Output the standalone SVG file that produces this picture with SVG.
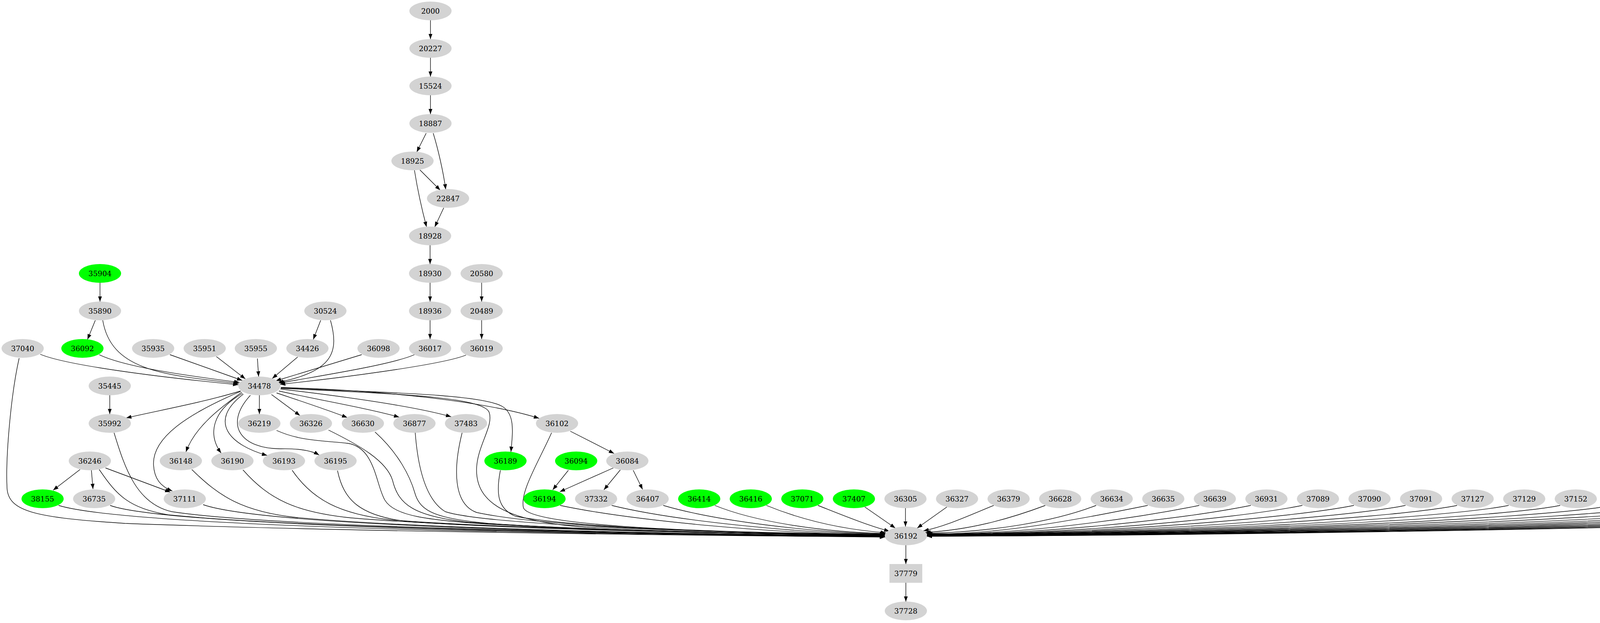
<svg xmlns="http://www.w3.org/2000/svg" width="5678" height="1595" viewBox="0 0 5678 1595">
<style>
.node ellipse,.node rect{fill:#d3d3d3;stroke:none}
.g ellipse{fill:#00ff00}
.node text{font-family:"DejaVu Serif","Liberation Serif",serif;font-size:18.67px;text-anchor:middle;fill:#000}
#edges path{fill:none;stroke:#000;stroke-width:1.35;marker-end:url(#a)}
</style>
<defs>
<marker id="a" markerUnits="userSpaceOnUse" markerWidth="16" markerHeight="12" refX="13.5" refY="5" orient="auto"><path d="M0,0 L13.5,5 L0,10 z" fill="#000"/></marker>
</defs>
<rect width="5678" height="1595" fill="#fff"/>
<g id="edges">
<path d="M1102,52 L1102,100"/>
<path d="M1102,148 L1102,196"/>
<path d="M1102,244 L1102,292"/>
<path d="M1091,341 L1067,389"/>
<path d="M1109,341 C1121,380 1135,440 1141,485"/>
<path d="M1075,435 L1127,487"/>
<path d="M1061,436 C1068,480 1081,540 1092,581"/>
<path d="M1136,532 L1113,581"/>
<path d="M1101,628 L1101,676"/>
<path d="M1101,724 L1101,772"/>
<path d="M1101,820 L1101,868"/>
<path d="M1233,724 L1233,772"/>
<path d="M1233,820 L1233,868"/>
<path d="M256,724 L256,772"/>
<path d="M244,820 L224,869"/>
<path d="M263,820 C285,950 420,960 611,982"/>
<path d="M821,820 L802,869"/>
<path d="M846,820 C868,900 855,950 712,979"/>
<path d="M103,907 C170,935 400,965 610,985"/>
<path d="M254,908 C320,940 480,962 613,979"/>
<path d="M435,908 L620,974"/>
<path d="M554,913 L628,970"/>
<path d="M659,918 L662,964"/>
<path d="M762,914 L697,969"/>
<path d="M926,908 L706,975"/>
<path d="M1061,908 C1000,935 800,965 715,981"/>
<path d="M1193,909 C1130,935 850,970 717,984"/>
<path d="M281,1012 L281,1060"/>
<path d="M616,1001 C520,1030 420,1048 323,1070"/>
<path d="M664,1012 L664,1060"/>
<path d="M695,1010 L768,1064"/>
<path d="M708,1006 C780,1030 840,1050 889,1069"/>
<path d="M714,1001 C820,1025 940,1045 1022,1068"/>
<path d="M718,996 C880,1015 1060,1040 1155,1067"/>
<path d="M719,992 C1000,1000 1250,1030 1380,1071"/>
<path d="M719,993 C1000,1005 1230,1010 1285,1040 C1320,1060 1312,1110 1308,1157"/>
<path d="M719,994 C1000,1008 1235,1015 1252,1055 C1265,1090 1222,1140 1220,1200 C1218,1290 1300,1335 1500,1350 C1800,1365 2100,1369 2266,1372"/>
<path d="M619,1004 C570,1040 500,1090 476,1157"/>
<path d="M621,1007 C545,1050 530,1110 566,1160"/>
<path d="M623,1009 C530,1080 590,1140 684,1166"/>
<path d="M641,1012 C570,1090 620,1150 720,1149 C770,1148 800,1155 817,1165"/>
<path d="M616,1002 C480,1060 390,1120 393,1190 C395,1225 410,1245 441,1257"/>
<path d="M205,1202 L136,1255"/>
<path d="M234,1204 L238,1252"/>
<path d="M270,1198 L436,1260"/>
<path d="M1460,1104 L1572,1161"/>
<path d="M1455,1204 L1415,1254"/>
<path d="M1570,1198 L1433,1259"/>
<path d="M1588,1203 L1546,1254"/>
<path d="M1621,1204 L1645,1253"/>
<path d="M49,917 C28,1010 14,1170 18,1250 C22,1310 90,1325 320,1340 C900,1362 1800,1371 2266,1375"/>
<path d="M150,1294 C300,1340 1100,1366 2266,1374.5"/>
<path d="M254,1202 C300,1270 330,1300 430,1318 C800,1355 1700,1368 2266,1374"/>
<path d="M282,1294 C400,1338 1200,1366 2266,1374"/>
<path d="M292,1108 C320,1200 350,1290 440,1310 C700,1350 1600,1366 2266,1373.5"/>
<path d="M520,1292 C650,1338 1300,1364 2266,1373"/>
<path d="M491,1202 C560,1270 620,1310 760,1325 C1100,1356 1800,1367 2266,1373"/>
<path d="M622,1203 C690,1280 760,1312 900,1326 C1200,1352 1900,1366 2266,1372.5"/>
<path d="M748,1204 C800,1280 870,1316 1000,1331 C1300,1354 1900,1366 2266,1372"/>
<path d="M864,1205 C880,1280 920,1322 1050,1336 C1350,1356 1900,1367 2266,1371"/>
<path d="M708,1102 C770,1130 830,1128 890,1135 C960,1145 962,1240 985,1280 C1010,1322 1100,1332 1250,1342 C1600,1362 2000,1368 2266,1372"/>
<path d="M841,1101 C920,1140 990,1180 1005,1230 C1020,1292 1060,1322 1200,1337 C1500,1359 2000,1368 2266,1371.5"/>
<path d="M960,1106 C1020,1160 1050,1220 1062,1262 C1076,1312 1120,1327 1250,1340 C1550,1360 2000,1368 2266,1371"/>
<path d="M1063,1108 C1070,1200 1090,1280 1140,1310 C1250,1346 1900,1366 2266,1370"/>
<path d="M1183,1108 C1160,1200 1160,1290 1220,1312 C1400,1351 1900,1366 2266,1369.5"/>
<path d="M1281,1204 C1270,1260 1272,1302 1320,1322 C1500,1356 2000,1367 2266,1369"/>
<path d="M1412,1108 C1380,1180 1330,1260 1340,1300 C1355,1342 1700,1362 2266,1368.5"/>
<path d="M1434,1294 C1614,1332 1986,1368 2266,1368.5"/>
<path d="M1566,1294 C1720,1332 2034,1365 2266,1368"/>
<path d="M1698,1294 C1830,1333 2080,1364 2266,1367"/>
<path d="M1830,1294 C1930,1335 2100,1362 2266,1366"/>
<path d="M1962,1294 C2050,1330 2150,1355 2268,1364"/>
<path d="M2094,1294 C2150,1316 2220,1345 2277,1360"/>
<path d="M2214,1298 L2292,1352"/>
<path d="M2318,1301 L2318,1348"/>
<path d="M2424,1298 L2348,1352"/>
<path d="M2544,1294 C2480,1320 2420,1348 2364,1359"/>
<path d="M2676,1294 C2580,1330 2480,1357 2369,1363"/>
<path d="M2806,1294 C2700,1335 2540,1362 2371,1365.5"/>
<path d="M2938,1294 C2758,1330 2556,1370 2373,1366.5"/>
<path d="M3070,1294 C2890,1330 2604,1370 2373,1367"/>
<path d="M3202,1294 C3022,1330 2651,1370 2373,1367.5"/>
<path d="M3334,1294 C3154,1330 2699,1370 2373,1368"/>
<path d="M3466,1294 C3286,1330 2746,1370 2373,1368.3"/>
<path d="M3598,1294 C3418,1330 2794,1370 2373,1368.6"/>
<path d="M3730,1294 C3550,1330 2841,1370 2373,1368.9"/>
<path d="M3862,1294 C3682,1330 2889,1370 2373,1369.2"/>
<path d="M3994,1294 C3814,1330 2936,1370 2373,1369.5"/>
<path d="M4126,1294 C3946,1330 2984,1370 2373,1369.8"/>
<path d="M4258,1294 C4078,1330 3031,1370 2373,1370.1"/>
<path d="M4390,1294 C4210,1330 3079,1370 2373,1370.4"/>
<path d="M4522,1294 C4342,1330 3126,1370 2373,1370.7"/>
<path d="M4654,1294 C4474,1330 3174,1370 2373,1371"/>
<path d="M4786,1294 C4606,1330 3221,1370 2373,1371.3"/>
<path d="M4918,1294 C4738,1330 3269,1370 2373,1371.6"/>
<path d="M5050,1294 C4870,1330 3317,1370 2373,1371.9"/>
<path d="M5182,1294 C5002,1330 3364,1370 2373,1372.2"/>
<path d="M5314,1294 C5134,1330 3412,1370 2373,1372.5"/>
<path d="M5446,1294 C5266,1330 3459,1370 2373,1372.8"/>
<path d="M5578,1294 C5398,1330 3507,1370 2373,1373.1"/>
<path d="M2319,1396 L2319,1444"/>
<path d="M2319,1492 L2319,1540"/>
</g>
<g id="n2000" class="node"><ellipse cx="1102" cy="28" rx="54" ry="24"/><text x="1102" y="35">2000</text></g>
<g id="n20227" class="node"><ellipse cx="1102" cy="124" rx="54" ry="24"/><text x="1102" y="131">20227</text></g>
<g id="n15524" class="node"><ellipse cx="1102" cy="220" rx="54" ry="24"/><text x="1102" y="227">15524</text></g>
<g id="n18887" class="node"><ellipse cx="1102" cy="316" rx="54" ry="24"/><text x="1102" y="323">18887</text></g>
<g id="n18925" class="node"><ellipse cx="1056" cy="412" rx="54" ry="24"/><text x="1056" y="419">18925</text></g>
<g id="n22847" class="node"><ellipse cx="1147" cy="508" rx="54" ry="24"/><text x="1147" y="515">22847</text></g>
<g id="n18928" class="node"><ellipse cx="1101" cy="604" rx="54" ry="24"/><text x="1101" y="611">18928</text></g>
<g id="n35904" class="node g"><ellipse cx="256" cy="700" rx="54" ry="24"/><text x="256" y="707">35904</text></g>
<g id="n18930" class="node"><ellipse cx="1101" cy="700" rx="54" ry="24"/><text x="1101" y="707">18930</text></g>
<g id="n20580" class="node"><ellipse cx="1233" cy="700" rx="54" ry="24"/><text x="1233" y="707">20580</text></g>
<g id="n35890" class="node"><ellipse cx="256" cy="796" rx="54" ry="24"/><text x="256" y="803">35890</text></g>
<g id="n30524" class="node"><ellipse cx="833" cy="796" rx="54" ry="24"/><text x="833" y="803">30524</text></g>
<g id="n18936" class="node"><ellipse cx="1101" cy="796" rx="54" ry="24"/><text x="1101" y="803">18936</text></g>
<g id="n20489" class="node"><ellipse cx="1233" cy="796" rx="54" ry="24"/><text x="1233" y="803">20489</text></g>
<g id="n37040" class="node"><ellipse cx="58" cy="892" rx="54" ry="24"/><text x="58" y="899">37040</text></g>
<g id="n36092" class="node g"><ellipse cx="211" cy="892" rx="54" ry="24"/><text x="211" y="899">36092</text></g>
<g id="n35935" class="node"><ellipse cx="392" cy="892" rx="54" ry="24"/><text x="392" y="899">35935</text></g>
<g id="n35951" class="node"><ellipse cx="524" cy="892" rx="54" ry="24"/><text x="524" y="899">35951</text></g>
<g id="n35955" class="node"><ellipse cx="655" cy="892" rx="54" ry="24"/><text x="655" y="899">35955</text></g>
<g id="n34426" class="node"><ellipse cx="787" cy="892" rx="54" ry="24"/><text x="787" y="899">34426</text></g>
<g id="n36098" class="node"><ellipse cx="969" cy="892" rx="54" ry="24"/><text x="969" y="899">36098</text></g>
<g id="n36017" class="node"><ellipse cx="1101" cy="892" rx="54" ry="24"/><text x="1101" y="899">36017</text></g>
<g id="n36019" class="node"><ellipse cx="1233" cy="892" rx="54" ry="24"/><text x="1233" y="899">36019</text></g>
<g id="n35445" class="node"><ellipse cx="281" cy="988" rx="54" ry="24"/><text x="281" y="995">35445</text></g>
<g id="n34478" class="node"><ellipse cx="664" cy="988" rx="54" ry="24"/><text x="664" y="995">34478</text></g>
<g id="n35992" class="node"><ellipse cx="281" cy="1084" rx="54" ry="24"/><text x="281" y="1091">35992</text></g>
<g id="n36219" class="node"><ellipse cx="664" cy="1084" rx="54" ry="24"/><text x="664" y="1091">36219</text></g>
<g id="n36326" class="node"><ellipse cx="796" cy="1084" rx="54" ry="24"/><text x="796" y="1091">36326</text></g>
<g id="n36630" class="node"><ellipse cx="929" cy="1084" rx="54" ry="24"/><text x="929" y="1091">36630</text></g>
<g id="n36877" class="node"><ellipse cx="1061" cy="1084" rx="54" ry="24"/><text x="1061" y="1091">36877</text></g>
<g id="n37483" class="node"><ellipse cx="1193" cy="1084" rx="54" ry="24"/><text x="1193" y="1091">37483</text></g>
<g id="n36102" class="node"><ellipse cx="1426" cy="1084" rx="54" ry="24"/><text x="1426" y="1091">36102</text></g>
<g id="n36246" class="node"><ellipse cx="230" cy="1180" rx="54" ry="24"/><text x="230" y="1187">36246</text></g>
<g id="n36148" class="node"><ellipse cx="463" cy="1180" rx="54" ry="24"/><text x="463" y="1187">36148</text></g>
<g id="n36190" class="node"><ellipse cx="595" cy="1180" rx="54" ry="24"/><text x="595" y="1187">36190</text></g>
<g id="n36193" class="node"><ellipse cx="727" cy="1180" rx="54" ry="24"/><text x="727" y="1187">36193</text></g>
<g id="n36195" class="node"><ellipse cx="859" cy="1180" rx="54" ry="24"/><text x="859" y="1187">36195</text></g>
<g id="n36189" class="node g"><ellipse cx="1294" cy="1180" rx="54" ry="24"/><text x="1294" y="1187">36189</text></g>
<g id="n36094" class="node g"><ellipse cx="1475" cy="1180" rx="54" ry="24"/><text x="1475" y="1187">36094</text></g>
<g id="n36084" class="node"><ellipse cx="1606" cy="1180" rx="54" ry="24"/><text x="1606" y="1187">36084</text></g>
<g id="n38155" class="node g"><ellipse cx="109" cy="1277" rx="54" ry="24"/><text x="109" y="1284">38155</text></g>
<g id="n36735" class="node"><ellipse cx="241" cy="1277" rx="54" ry="24"/><text x="241" y="1284">36735</text></g>
<g id="n37111" class="node"><ellipse cx="473" cy="1277" rx="54" ry="24"/><text x="473" y="1284">37111</text></g>
<g id="n36194" class="node g"><ellipse cx="1394" cy="1277" rx="54" ry="24"/><text x="1394" y="1284">36194</text></g>
<g id="n37332" class="node"><ellipse cx="1526" cy="1277" rx="54" ry="24"/><text x="1526" y="1284">37332</text></g>
<g id="n36407" class="node"><ellipse cx="1658" cy="1277" rx="54" ry="24"/><text x="1658" y="1284">36407</text></g>
<g id="n36414" class="node g"><ellipse cx="1790" cy="1277" rx="54" ry="24"/><text x="1790" y="1284">36414</text></g>
<g id="n36416" class="node g"><ellipse cx="1922" cy="1277" rx="54" ry="24"/><text x="1922" y="1284">36416</text></g>
<g id="n37071" class="node g"><ellipse cx="2054" cy="1277" rx="54" ry="24"/><text x="2054" y="1284">37071</text></g>
<g id="n37407" class="node g"><ellipse cx="2186" cy="1277" rx="54" ry="24"/><text x="2186" y="1284">37407</text></g>
<g id="n36305" class="node"><ellipse cx="2318" cy="1277" rx="54" ry="24"/><text x="2318" y="1284">36305</text></g>
<g id="n36327" class="node"><ellipse cx="2450" cy="1277" rx="54" ry="24"/><text x="2450" y="1284">36327</text></g>
<g id="n36379" class="node"><ellipse cx="2582" cy="1277" rx="54" ry="24"/><text x="2582" y="1284">36379</text></g>
<g id="n36628" class="node"><ellipse cx="2714" cy="1277" rx="54" ry="24"/><text x="2714" y="1284">36628</text></g>
<g id="n36634" class="node"><ellipse cx="2846" cy="1277" rx="54" ry="24"/><text x="2846" y="1284">36634</text></g>
<g id="n36635" class="node"><ellipse cx="2978" cy="1277" rx="54" ry="24"/><text x="2978" y="1284">36635</text></g>
<g id="n36639" class="node"><ellipse cx="3110" cy="1277" rx="54" ry="24"/><text x="3110" y="1284">36639</text></g>
<g id="n36931" class="node"><ellipse cx="3242" cy="1277" rx="54" ry="24"/><text x="3242" y="1284">36931</text></g>
<g id="n37089" class="node"><ellipse cx="3374" cy="1277" rx="54" ry="24"/><text x="3374" y="1284">37089</text></g>
<g id="n37090" class="node"><ellipse cx="3506" cy="1277" rx="54" ry="24"/><text x="3506" y="1284">37090</text></g>
<g id="n37091" class="node"><ellipse cx="3638" cy="1277" rx="54" ry="24"/><text x="3638" y="1284">37091</text></g>
<g id="n37127" class="node"><ellipse cx="3770" cy="1277" rx="54" ry="24"/><text x="3770" y="1284">37127</text></g>
<g id="n37129" class="node"><ellipse cx="3902" cy="1277" rx="54" ry="24"/><text x="3902" y="1284">37129</text></g>
<g id="n37152" class="node"><ellipse cx="4034" cy="1277" rx="54" ry="24"/><text x="4034" y="1284">37152</text></g>
<g id="n37161" class="node"><ellipse cx="4166" cy="1277" rx="54" ry="24"/><text x="4166" y="1284">37161</text></g>
<g id="n37165" class="node"><ellipse cx="4298" cy="1277" rx="54" ry="24"/><text x="4298" y="1284">37165</text></g>
<g id="n37377" class="node"><ellipse cx="4430" cy="1277" rx="54" ry="24"/><text x="4430" y="1284">37377</text></g>
<g id="n37385" class="node"><ellipse cx="4562" cy="1277" rx="54" ry="24"/><text x="4562" y="1284">37385</text></g>
<g id="n37429" class="node"><ellipse cx="4694" cy="1277" rx="54" ry="24"/><text x="4694" y="1284">37429</text></g>
<g id="n37536" class="node"><ellipse cx="4826" cy="1277" rx="54" ry="24"/><text x="4826" y="1284">37536</text></g>
<g id="n37553" class="node"><ellipse cx="4958" cy="1277" rx="54" ry="24"/><text x="4958" y="1284">37553</text></g>
<g id="n37612" class="node"><ellipse cx="5090" cy="1277" rx="54" ry="24"/><text x="5090" y="1284">37612</text></g>
<g id="n37614" class="node"><ellipse cx="5222" cy="1277" rx="54" ry="24"/><text x="5222" y="1284">37614</text></g>
<g id="n38030" class="node"><ellipse cx="5354" cy="1277" rx="54" ry="24"/><text x="5354" y="1284">38030</text></g>
<g id="n38065" class="node"><ellipse cx="5486" cy="1277" rx="54" ry="24"/><text x="5486" y="1284">38065</text></g>
<g id="n38325" class="node"><ellipse cx="5618" cy="1277" rx="54" ry="24"/><text x="5618" y="1284">38325</text></g>
<g id="n36192" class="node"><ellipse cx="2319" cy="1372" rx="54" ry="24"/><text x="2319" y="1379">36192</text></g>
<g id="n37779" class="node"><rect x="2277" y="1444" width="84" height="48"/><text x="2319" y="1475">37779</text></g>
<g id="n37728" class="node"><ellipse cx="2319" cy="1564" rx="54" ry="24"/><text x="2319" y="1571">37728</text></g>
</svg>
